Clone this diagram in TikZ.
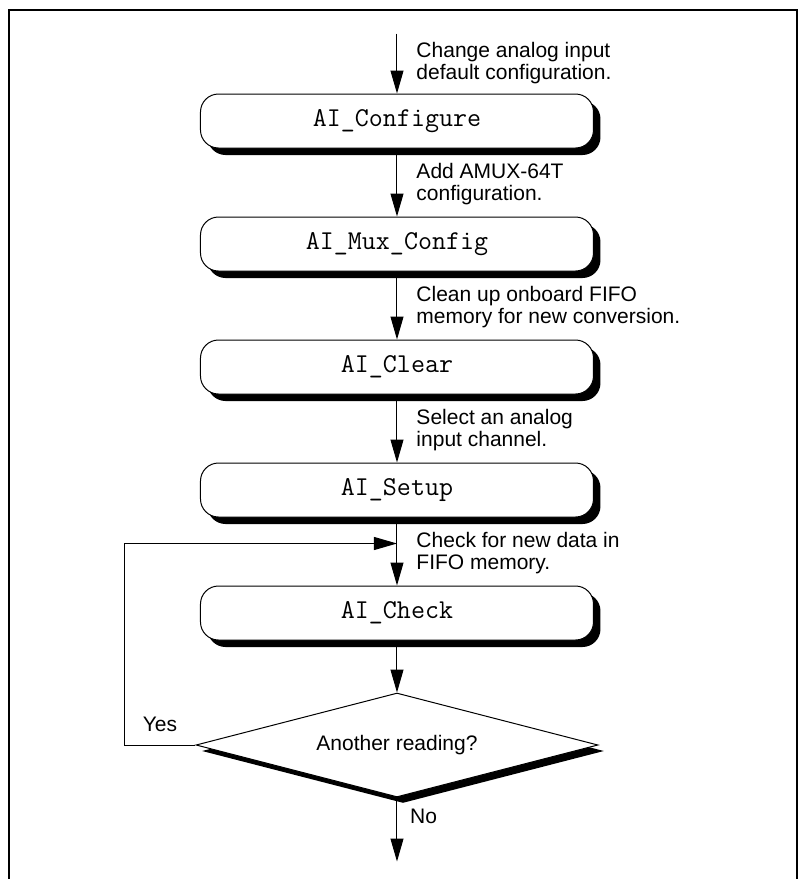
\documentclass[tikz,border=0pt]{standalone}
\usepackage{fontspec}
\setmainfont{Liberation Sans}
\usepackage{tikz}
\usetikzlibrary{arrows.meta, positioning, shapes.geometric, shadows}

\begin{document}
\begin{tikzpicture}[node distance=34pt,
    func/.style={draw, rectangle, rounded corners=9pt, fill=white, line width=0.5pt,
        minimum width=196.5pt, minimum height=27pt, font=\ttfamily\fontsize{13.6pt}{15pt}\selectfont,
        drop shadow={shadow xshift=3.5pt, shadow yshift=-3.5pt, fill=black, opacity=1}},
    decision/.style={draw, diamond, aspect=3.9, fill=white, line width=0.5pt,
        minimum width=201pt, minimum height=52pt, inner sep=0pt, font=\fontsize{10.5pt}{12pt}\selectfont,
        drop shadow={shadow xshift=3pt, shadow yshift=-3pt, fill=black, opacity=1}},
    note/.style={anchor=west, inner sep=0pt, xshift=9.5pt, yshift=-1pt, align=left,
        font=\fontsize{10.5pt}{11pt}\selectfont},
    flow/.style={-{Triangle[length=11.5pt, width=6.5pt]}, line width=0.5pt}]
    \useasboundingbox (-198.5pt,60.5pt) rectangle (201.5pt,-379pt);
    % Frame
    \draw[line width=1pt] (-193.75pt,-380pt) -- (-193.75pt,55.5pt) -- (200pt,55.5pt) -- (200pt,-380pt);

    % Nodes
    \node[func] (conf) at (0,0) {AI\_Configure};
    \node[func, below=of conf] (mux) {AI\_Mux\_Config};
    \node[func, below=of mux] (clear) {AI\_Clear};
    \node[func, below=of clear] (setup) {AI\_Setup};
    \node[func, below=of setup] (check) {AI\_Check};
    \node[decision, below=26pt of check] (again) {Another reading?};
    \coordinate[above=30pt of conf] (start);
    \coordinate[below=13pt of setup] (join);
    \coordinate[below=32pt of again] (stop);

    % Arrows
    \draw[flow] (start) -- (conf) node[midway, note, yshift=1pt] {Change analog input\\default configuration.};
    \draw[flow] (conf) -- (mux) node[midway, note] {Add AMUX-64T\\configuration.};
    \draw[flow] (mux) -- (clear) node[midway, note] {Clean up onboard FIFO\\memory for new conversion.};
    \draw[flow] (clear) -- (setup) node[midway, note] {Select an analog\\input channel.};
    \draw[flow] (setup) -- (check) node[midway, note] {Check for new data in\\FIFO memory.};
    \draw[flow] (check) -- (again);
    \draw[flow] (again.west) -- ++(-35.5pt,0) node[midway, above, yshift=3pt, font=\fontsize{10.5pt}{12pt}\selectfont] {Yes} |- (join);
    \draw[flow] (again) -- (stop) node[pos=0.3, right, xshift=3pt, font=\fontsize{10.5pt}{12pt}\selectfont] {No};
\end{tikzpicture}
\end{document}
